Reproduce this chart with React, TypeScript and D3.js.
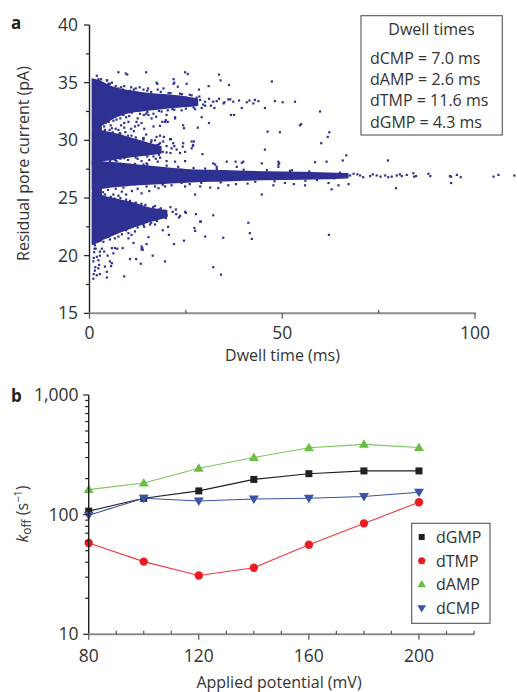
import React from 'react';
import * as d3 from 'd3';

// panel a: dense cores of each event cluster, [dwell ms, upper pA, lower pA]
const bridgeBand = [[0.8, 35.3, 21.0], [3.0, 35.1, 21.3]];
const dcmpBand = [[0.8, 35.3, 31.0], [2, 35.15, 31.2], [4, 34.9, 31.5], [6, 34.6, 31.9], [9, 34.35, 32.3], [13, 34.15, 32.55], [17, 34.0, 32.7], [21, 33.9, 32.85], [25, 33.75, 32.95], [28, 33.55, 33.05]];
const dampBand = [[0.8, 30.85, 27.9], [3, 30.8, 28.2], [6, 30.6, 28.35], [10, 30.25, 28.55], [14, 29.85, 28.7], [18.5, 29.45, 28.9]];
const dtmpBand = [[0.8, 28.2, 25.8], [4, 28.1, 25.9], [8, 28.0, 26.05], [12, 27.85, 26.15], [18, 27.65, 26.25], [25, 27.45, 26.4], [35, 27.35, 26.5], [45, 27.25, 26.6], [55, 27.2, 26.65], [62, 27.15, 26.7], [67, 27.1, 26.75]];
const dgmpBand = [[0.8, 25.5, 21.0], [2.5, 25.3, 21.3], [4, 25.1, 21.5], [7.5, 24.85, 22.0], [11.5, 24.55, 22.5], [15, 24.15, 22.9], [20, 23.9, 23.35]];

// panel a: single events, [dwell ms, current pA]
const eventsHigh = [[1.9, 35.6], [7.5, 35.9], [9.4, 35.8], [9.8, 35.7], [14.7, 35.9], [24.8, 35.9], [25.5, 35.75], [33.6, 35.7], [21.8, 35.3], [34.0, 35.2], [47.3, 35.1], [17.6, 34.9], [21.8, 34.9], [25.2, 34.9], [36.2, 34.8], [30.9, 34.7], [19.2, 34.5], [22.9, 34.65], [28.4, 34.4], [14.0, 34.4], [17.7, 34.4], [4.6, 35.2], [4.9, 34.9], [17.4, 35.0], [22.0, 35.0], [1.4, 35.2], [2.7, 35.1], [3.6, 34.9], [4.9, 34.8], [4.5, 35.2], [5.3, 34.9], [6.2, 34.5], [2.3, 35.3], [12.0, 34.5], [10.5, 34.3], [8.7, 34.4], [16, 34.2], [20.5, 34.1], [24, 34.0], [26.5, 33.9],
  [6.8, 34.7], [7.5, 34.5], [8.2, 34.6], [9, 34.7], [10.8, 34.6], [11.5, 34.4], [13, 34.6], [15.2, 34.5], [3, 35.3], [5.8, 35.0], [15, 34.3], [18.5, 34.2], [21, 34.1], [23.5, 34.05], [26, 33.95], [28.5, 33.8]];
const eventsCmpTail = [[28.7, 33.5], [30.0, 33.35], [32.1, 33.35], [33.6, 33.6], [36.0, 33.55], [37.3, 33.35], [38.8, 33.45], [42.9, 33.5], [48.1, 33.4], [50.1, 33.3], [53.3, 33.35], [36.5, 33.55], [39.5, 32.8], [42.5, 33.2], [43.8, 33.4], [45.5, 32.8], [59.8, 32.5], [29.5, 33.1], [31, 33.6], [34.8, 33.2], [40.8, 33.3], [27.8, 33.7], [31.5, 33.0],
  [15, 32.45], [18, 32.55], [22, 32.65], [25, 32.75], [27, 32.85], [30, 33.0], [33, 33.4], [35, 33.3], [41.5, 33.45]];
const eventsMid = [[23.9, 32.6], [27.4, 32.7], [29.1, 32.8], [32.4, 32.8], [36.7, 32.2], [37.5, 32.2], [22.2, 32.0], [29.1, 32.0], [20.0, 32.2], [31.0, 31.5], [24.3, 31.3], [24.5, 31.05], [28.1, 31.1], [18.3, 31.25], [18.9, 31.6], [19.6, 31.6], [20.3, 31.6], [17.3, 32.05], [16.1, 31.9], [15.3, 32.2], [10.1, 31.6], [9.0, 31.5], [8.2, 31.3], [12.2, 31.6], [12.7, 31.3], [11.8, 31.2], [7.5, 30.9], [5.8, 31.05], [4.0, 30.9], [3.2, 30.75], [10.8, 31.0], [14.2, 31.0], [14.7, 30.5], [14.0, 30.2], [16.1, 30.0], [18.3, 30.4], [21.1, 30.1], [24.3, 29.75], [27.1, 29.9], [46.2, 30.75], [49.4, 30.7], [4.9, 30.5], [6.6, 30.3], [8.4, 30.3], [10.9, 30.4], [2.0, 31.3], [2.7, 31.8], [13.1, 32.3], [14.7, 32.3], [16.6, 32.3], [18.7, 32.5], [20.3, 32.6], [21.5, 32.7], [54.6, 31.3], [54.9, 31.4], [62.2, 30.7], [61.8, 30.3], [60.1, 29.75], [14.1, 32.2], [16.6, 31.2], [22.2, 31.9], [19.8, 31.75], [5, 31.6], [7, 31.8], [3.5, 32.2], [9.5, 32.0], [6.5, 32.3], [11, 32.4],
  [3, 31.9], [4.2, 31.5], [5.5, 31.3], [6.8, 31.0], [8, 31.9], [9, 31.1], [2.5, 30.9], [3.8, 31.2], [5.2, 30.9], [6, 30.7], [7.8, 30.6], [9.3, 30.7], [11.5, 30.8], [12.5, 31.9], [13.5, 31.5], [4.4, 32.1], [6.2, 31.7], [8.8, 32.2], [10.3, 32.1], [3.3, 31.4]];
const eventsAmp = [[14.0, 30.2], [17.0, 30.0], [18.3, 29.75], [19.1, 29.9], [21.3, 29.3], [22.6, 29.2], [24.8, 29.0], [23.5, 28.9], [26.5, 29.3], [26.9, 29.6], [29.3, 28.8], [45.5, 29.2], [19.3, 30.3], [20.9, 30.1], [17.4, 30.3], [21.7, 29.75], [24.2, 29.45], [26.5, 29.9], [26.8, 29.5], [20, 29.5], [22, 29.5], [19, 29.0], [21, 28.9], [17.5, 29.6],
  [8, 30.6], [10, 30.4], [12, 30.25], [14, 30.05], [16, 29.85], [18, 29.65], [9, 28.45], [12, 28.5], [15, 28.6], [18, 28.75], [20, 28.95],
  [16.6, 28.6], [17.2, 28.4], [17.7, 28.15], [18.3, 28.5], [20.0, 28.2], [22.2, 28.15], [24.8, 28.2], [14.8, 28.0], [14.0, 27.9], [32.6, 27.9], [35.6, 28.15], [37.9, 28.15], [39.9, 28.15], [44.7, 28.0], [49.0, 27.9], [52.5, 27.4], [49.0, 28.15], [66.6, 28.7], [58.5, 28.1], [61.5, 28.15], [49.2, 28.0], [49.0, 27.7], [65.7, 28.25], [77.4, 28.25], [32.1, 28.0], [33.0, 27.7], [38.2, 27.7], [39.5, 28.05], [5.3, 28.2], [6.6, 28.3], [9.0, 27.9], [11.8, 27.95],
  [3.5, 28.3], [4.5, 28.4], [7, 28.2], [8, 28.4], [10, 28.3], [12.5, 28.4], [13.5, 28.2], [15.5, 28.3]];
const eventsTmp = [[67.6, 26.95], [70.2, 26.95], [72.8, 26.9], [74.5, 26.95], [76.7, 26.95], [78.4, 26.85], [79.7, 26.95], [82.3, 27.0], [84.0, 27.15], [84.2, 26.85], [84.7, 26.9], [87.9, 27.1], [88.4, 26.9], [93.5, 26.9], [93.8, 26.85], [95.3, 27.0], [96.3, 26.8], [104.8, 26.85], [106.1, 27.0], [110.2, 26.95], [68.5, 27.1], [71, 26.8], [73.5, 27.05], [77.5, 26.8], [80.5, 27.05], [65, 27.2], [63.5, 26.7], [69.5, 27.05], [75.5, 26.85], [81, 26.9],
  [15, 27.9], [20, 27.8], [23, 27.7], [27, 27.6], [30, 27.55], [33, 27.5], [40, 27.45], [46, 27.4], [52, 27.35], [57, 27.3], [19, 26.15], [26, 26.2], [29, 26.3], [34, 26.35], [43, 26.4], [48, 26.45], [56, 26.5], [59, 26.55],
  [17.0, 26.0], [17.9, 25.85], [19.6, 26.0], [21.3, 26.1], [23.9, 26.3], [24.8, 26.0], [27.4, 25.3], [28.7, 26.0], [31.3, 25.9], [33.4, 25.85], [36.0, 26.1], [44.7, 25.3], [47.7, 26.1], [50.7, 26.3], [55.9, 26.1], [62.0, 26.3], [62.8, 25.75], [64.6, 26.1], [67.2, 26.2], [79.5, 25.85], [93.8, 26.3], [9.6, 26.1], [11.8, 26.2], [14.8, 26.0], [8.4, 25.55], [6.2, 25.3], [4.0, 25.3], [2.3, 25.0], [4.0, 24.7], [7.1, 24.55], [10.7, 24.55], [38, 26.2], [41, 26.25], [53, 26.2],
  [3, 25.8], [3.5, 25.5], [4.8, 25.7], [5.5, 25.0], [6.8, 25.8], [7.5, 25.2], [8.8, 25.9], [9.5, 25.3], [11, 25.6], [12.5, 25.8], [13.5, 25.4], [15.5, 25.6], [5, 24.9], [3, 24.9]];
const eventsGmp = [[24.8, 23.8], [27.6, 23.6], [32.1, 23.5], [28.9, 22.95], [21.6, 23.8], [22.4, 24.0], [23.2, 23.3], [20.0, 23.5], [19.8, 23.25], [20.4, 22.5], [19.0, 22.2], [20.6, 21.8], [17.0, 22.7], [15.7, 22.7], [14.2, 22.5], [15.3, 21.6], [14.8, 21.0], [13.5, 20.8], [13.5, 20.55], [10.1, 21.5], [11.4, 21.1], [8.6, 20.65], [7.2, 20.6], [5.8, 20.65], [21.9, 21.0], [24.5, 21.3], [27.2, 22.4], [27.4, 22.15], [30.0, 21.65], [34.7, 21.55], [41.2, 22.85], [41.6, 21.95], [42.1, 21.45], [62.1, 21.8], [16.4, 20.0], [19.6, 19.5], [12.1, 19.7], [10.5, 19.7], [13.3, 19.3], [9.0, 18.2], [32.1, 19.0], [34.1, 18.35], [13.7, 20.65], [13.8, 20.5], [25.0, 23.7], [28.7, 22.95], [17, 24.3], [18.5, 24.1], [16, 23.9], [21, 24.2],
  [5.5, 25.1], [6.5, 24.95], [8, 25.0], [9.5, 24.85], [10.5, 24.75], [12, 24.6], [13.5, 24.5], [14.5, 24.4], [16.5, 24.2], [18, 24.0], [7, 22.0], [9.5, 22.2], [12.5, 22.45], [14, 22.65], [16, 22.85], [17.5, 23.0], [22.5, 23.6], [23.5, 23.45]];
const eventsLow = [[5.8, 19.35], [5.6, 19.1], [4.5, 18.6], [4.5, 18.1], [2.7, 18.4], [2.3, 18.9], [1.9, 18.3], [1.4, 18.7], [2.5, 19.2], [2.7, 20.0], [2.3, 19.6], [1.9, 19.9], [2.7, 20.35], [3.8, 20.35], [4.7, 20.0], [6.2, 20.2], [6.6, 20.65], [4.0, 19.05], [5.3, 19.5], [1.4, 20.9], [1.9, 21.2], [3.2, 21.65], [3.6, 21.2], [4.9, 21.65], [5.3, 21.4], [6.6, 21.5], [7.5, 21.65], [8.4, 21.85], [8.8, 22.4], [10.1, 21.95], [10.9, 21.8], [11.8, 22.1], [1.2, 20.3], [1.0, 19.5], [1.5, 19.0], [1.1, 18.4], [1.0, 18.0], [3.2, 20.6], [1.6, 20.6], [1.3, 20.6], [1.7, 21.5], [1.1, 19.8]];

const dwellTimes = ['dCMP = 7.0 ms', 'dAMP = 2.6 ms', 'dTMP = 11.6 ms', 'dGMP = 4.3 ms'];

// panel b
const potentials = [80, 100, 120, 140, 160, 180, 200];
const koffGMP = [107, 137, 158, 197, 220, 232, 232];
const koffTMP = [58, 40.5, 31, 36, 56, 84.5, 127];
const koffAMP = [162, 184, 244, 300, 362, 387, 364];
const koffCMP = [99, 137, 130, 135, 137, 142, 154];

const FONT = "'Open Sans', sans-serif";
const TXT = '#333';
const DOT = '#2e3192';

const series = [
  {name: 'dGMP', values: koffGMP, color: '#231f20', line: '#231f20', shape: 'square'},
  {name: 'dTMP', values: koffTMP, color: '#ed1c24', line: '#ef3a3f', shape: 'circle'},
  {name: 'dAMP', values: koffAMP, color: '#6cbd45', line: '#7cc45a', shape: 'up'},
  {name: 'dCMP', values: koffCMP, color: '#3a53a4', line: '#3a53a4', shape: 'down'},
];

function Marker({shape, x, y, color, s = 1}) {
  if (shape === 'square') return <rect x={x - 3.5 * s} y={y - 3.5 * s} width={7 * s} height={7 * s} fill={color} />;
  if (shape === 'circle') return <circle cx={x} cy={y} r={4.2 * s} fill={color} />;
  const h = 4.5 * s;
  if (shape === 'up') return <path d={`M${x},${y - h - 0.5}L${x + h + 0.5},${y + h - 1}L${x - h - 0.5},${y + h - 1}Z`} fill={color} />;
  return <path d={`M${x},${y + h + 0.5}L${x + h + 0.5},${y - h + 1}L${x - h - 0.5},${y - h + 1}Z`} fill={color} />;
}

export default function App() {
  // scales panel a
  const xA = d3.scaleLinear().domain([0, 100]).range([89.5, 475]);
  const yA = d3.scaleLinear().domain([15, 40]).range([313.3, 25]);
  // scales panel b
  const xB = d3.scaleLinear().domain([80, 220]).range([88.7, 474]);
  const yB = d3.scaleLog().domain([10, 1000]).range([634.3, 395]);

  const band = d3.area().x(d => xA(d[0])).y0(d => yA(d[2])).y1(d => yA(d[1])).curve(d3.curveMonotoneX);
  const allEvents = [...eventsHigh, ...eventsCmpTail, ...eventsMid, ...eventsAmp, ...eventsTmp, ...eventsGmp, ...eventsLow];

  const yATicks = d3.range(15, 40.1, 2.5);
  const xATicks = d3.range(0, 100.1, 25);
  const yBTicks = yB.ticks();
  const xBTicks = d3.range(80, 220.1, 10);
  const line = d3.line().x(d => xB(d[0])).y(d => yB(d[1]));

  return (
    <svg width={517} height={692} style={{position: 'absolute', left: 0, top: 0}} fontFamily={FONT}>
      <rect width={517} height={692} fill="#fff" />

      {/* ---------- panel a ---------- */}
      <text x={11} y={29} fontSize={17} fontWeight="bold" fill="#231f20">a</text>
      {[bridgeBand, dcmpBand, dampBand, dtmpBand, dgmpBand].map((b, i) => (
        <path key={i} d={band(b)} fill={DOT} stroke={DOT} strokeWidth={1.6} strokeLinejoin="round" />
      ))}
      {allEvents.map((d, i) => (
        <rect key={i} x={xA(d[0]) - 1.1} y={yA(d[1]) - 1.1} width={2.2} height={2.2} fill={DOT} />
      ))}

      <line x1={89.5} x2={89.5} y1={yA(40)} y2={yA(15)} stroke="#231f20" strokeWidth={1.4} />
      {yATicks.map(t => {
        const major = t % 5 === 0;
        return (
          <g key={t}>
            <line x1={89.5} x2={89.5 - (major ? 5.5 : 3.5)} y1={yA(t)} y2={yA(t)} stroke="#231f20" strokeWidth={1.2} />
            {major && <text x={78} y={yA(t) + 6} textAnchor="end" fontSize={17.5} fill={TXT}>{t}</text>}
          </g>
        );
      })}
      <line x1={89} x2={476} y1={yA(15)} y2={yA(15)} stroke="#8c8c8c" strokeWidth={2} />
      {xATicks.map(t => {
        const major = t % 50 === 0;
        return (
          <g key={t}>
            <line x1={xA(t)} x2={xA(t)} y1={yA(15)} y2={yA(15) + (major ? 5.5 : -3.5)} stroke="#555" strokeWidth={1.2} />
            {major && <text x={xA(t)} y={338.5} textAnchor="middle" fontSize={17.5} fill={TXT}>{t}</text>}
          </g>
        );
      })}
      <text x={282.5} y={360.5} textAnchor="middle" fontSize={16} fill={TXT}>Dwell time (ms)</text>
      <text transform="translate(28.5,163.5) rotate(-90)" textAnchor="middle" fontSize={16} fill={TXT}>Residual pore current (pA)</text>

      <rect x={361} y={15.7} width={141.3} height={119.3} fill="#fff" stroke="#555" strokeWidth={1.1} />
      <text x={431.5} y={35} textAnchor="middle" fontSize={16} fill={TXT}>Dwell times</text>
      {dwellTimes.map((s, i) => (
        <text key={s} x={370} y={64 + i * 21.2} fontSize={16} fill={TXT}>{s}</text>
      ))}

      {/* ---------- panel b ---------- */}
      <text x={11} y={402} fontSize={17} fontWeight="bold" fill="#231f20">b</text>
      {series.map(s => (
        <g key={s.name}>
          <path d={line(potentials.map((p, i) => [p, s.values[i]]))} fill="none" stroke={s.line} strokeWidth={1.1} />
          {potentials.map((p, i) => (
            <Marker key={p} shape={s.shape} x={xB(p)} y={yB(s.values[i])} color={s.color} />
          ))}
        </g>
      ))}

      <line x1={88.7} x2={88.7} y1={yB(1000)} y2={yB(10)} stroke="#231f20" strokeWidth={1.4} />
      {yBTicks.map(t => {
        const major = Math.abs(Math.log10(t) % 1) < 1e-6;
        return (
          <g key={t}>
            <line x1={88.7} x2={88.7 - (major ? 5.5 : 3.5)} y1={yB(t)} y2={yB(t)} stroke="#231f20" strokeWidth={1.2} />
            {major && <text x={78.5} y={yB(t) + 6} textAnchor="end" fontSize={17.5} fill={TXT}>{d3.format(',')(t)}</text>}
          </g>
        );
      })}
      <line x1={88.2} x2={474.5} y1={yB(10)} y2={yB(10)} stroke="#8c8c8c" strokeWidth={2} />
      {xBTicks.map(t => {
        const major = t % 40 === 0 && t <= 200;
        return (
          <g key={t}>
            <line x1={xB(t)} x2={xB(t)} y1={yB(10)} y2={yB(10) + (major ? 5.5 : -3.5)} stroke="#555" strokeWidth={1.2} />
            {major && <text x={xB(t)} y={661.5} textAnchor="middle" fontSize={17.5} fill={TXT}>{t}</text>}
          </g>
        );
      })}
      <text x={279} y={688} textAnchor="middle" fontSize={16} fill={TXT}>Applied potential (mV)</text>
      <text transform="translate(27.5,514) rotate(-90)" textAnchor="middle" fontSize={16} fill={TXT}>
        <tspan fontStyle="italic">k</tspan>
        <tspan fontSize={12} dy={3}>off</tspan>
        <tspan dy={-3}> (s</tspan>
        <tspan fontSize={11} dy={-6}>−1</tspan>
        <tspan dy={6}>)</tspan>
      </text>

      <rect x={411.7} y={523.3} width={78.3} height={100} fill="#fff" stroke="#555" strokeWidth={1.1} />
      {series.map((s, i) => (
        <g key={s.name}>
          <Marker shape={s.shape} x={421.7} y={537 + i * 23.7} color={s.color} s={0.85} />
          <text x={436} y={543 + i * 23.7} fontSize={16} fill={TXT}>{s.name}</text>
        </g>
      ))}
    </svg>
  );
}
